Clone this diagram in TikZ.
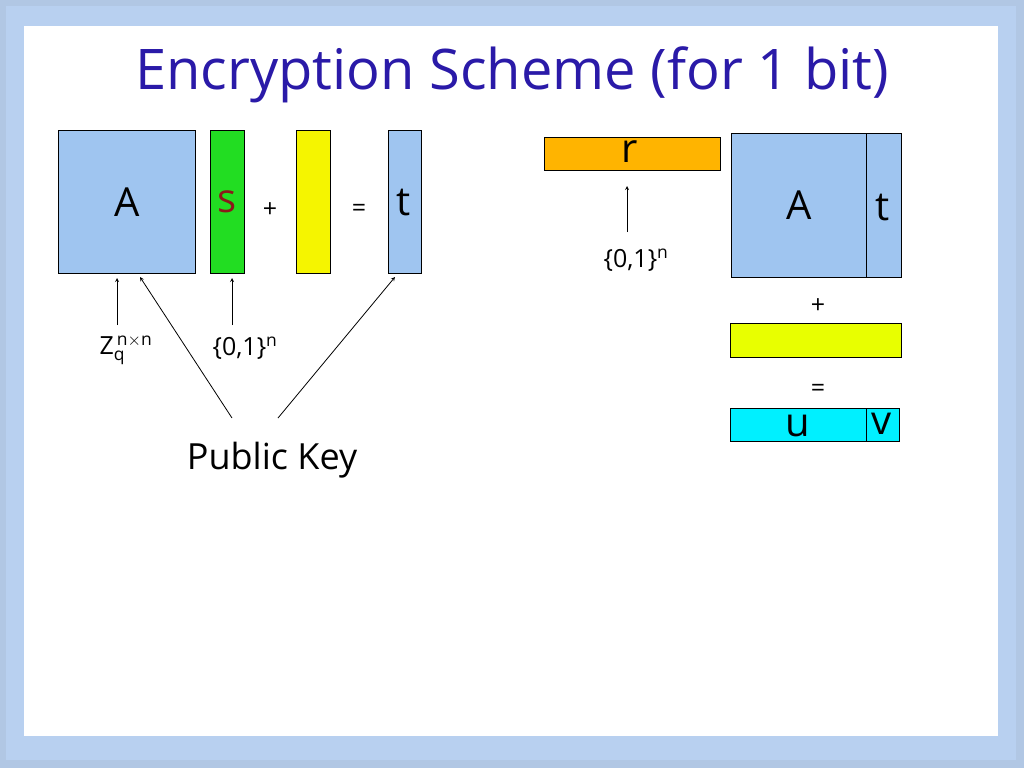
\documentclass[tikz,border=0pt]{standalone}
\usepackage{fontspec}
\setmainfont{Open Sans}
\definecolor{cA}{HTML}{9FC5F0}
\definecolor{cS}{HTML}{22DD22}
\definecolor{cSt}{HTML}{8B1A1A}
\definecolor{cE}{HTML}{F5F500}
\definecolor{cR}{HTML}{FFB400}
\definecolor{cE2}{HTML}{E8FF00}
\definecolor{cU}{HTML}{00F0FF}
\definecolor{cT}{HTML}{2A1AA8}
\definecolor{fr1}{HTML}{8FAFD8}
\definecolor{fr2}{HTML}{B8D0F0}
\begin{document}
\begin{tikzpicture}[x=1pt,y=-1pt,
  bx/.style={draw=black,line width=0.8pt,anchor=north west,inner sep=0},
  lb/.style={font=\fontsize{40}{40}\selectfont},
  sm/.style={font=\fontsize{25}{25}\selectfont},
  ar/.style={-stealth,line width=0.8pt}]
\useasboundingbox (0,0) rectangle (1024,768);
\fill[fr1!70] (0,0) rectangle (1024,768);
\fill[fr2] (6,6) rectangle (1016,760);
\fill[white] (24,26) rectangle (998,736);
\node (title) at (512,75) {\fontsize{56}{56}\selectfont\color{cT}Encryption Scheme (for 1 bit)};
% public key
\node[bx,fill=cA,minimum width=137,minimum height=143] (A) at (58,130) {};
\node[lb] at (A) {A};
\node[bx,fill=cS,minimum width=34,minimum height=143] (s) at (210,130) {};
\node[lb,text=cSt] at (s) {s};
\node[sm] (plus1) at (270,210) {+};
\node[bx,fill=cE,minimum width=34,minimum height=143] (e) at (296,130) {};
\node[sm] (eq1) at (359,210) {=};
\node[bx,fill=cA,minimum width=33,minimum height=143] (t) at (388,130) {};
\node[lb] at (404,203) {t};
\node[sm] (Z) at (126,350) {Z$_{\mathrm{q}}^{\,\mathrm{n}\times\mathrm{n}}$};
\node[sm] (b1) at (245,348) {\{0,1\}$^{\mathrm{n}}$};
\node[font=\fontsize{36}{36}\selectfont] (pk) at (272,460) {Public Key};
\coordinate (z1) at (117,325); \coordinate (z2) at (117,278);
\draw[ar] (z1) -- (z2);
\coordinate (b1a) at (232,325); \coordinate (b1b) at (232,278);
\draw[ar] (b1a) -- (b1b);
\coordinate (p1) at (232,418); \coordinate (p1e) at (140,277);
\coordinate (p2) at (278,418); \coordinate (p2e) at (395,277);
\draw[ar] (p1) -- (p1e);
\draw[ar] (p2) -- (p2e);
% encryption
\node[bx,fill=cR,minimum width=176,minimum height=33] (r) at (544,137) {};
\node[lb] at (630,152) {r};
\coordinate (r1) at (627,232); \coordinate (r2) at (627,186);
\draw[ar] (r1) -- (r2);
\node[sm] (b2) at (636,260) {\{0,1\}$^{\mathrm{n}}$};
\node[bx,fill=cA,minimum width=135,minimum height=144] (A2) at (731,133) {};
\node[lb] at (A2) {A};
\node[bx,fill=cA,minimum width=35,minimum height=144] (t2) at (866,133) {};
\node[lb] at (883,208) {t};
\node[sm] (plus2) at (818,306) {+};
\node[bx,fill=cE2,minimum width=171,minimum height=34] (e2) at (730,323) {};
\node[sm] (eq2) at (818,390) {=};
\node[bx,fill=cU,minimum width=136,minimum height=33] (u) at (730,408) {};
\node[lb] at (798,426) {u};
\node[bx,fill=cU,minimum width=33,minimum height=33] (v) at (866,408) {};
\node[lb] at (882,424) {v};
\end{tikzpicture}
\end{document}
